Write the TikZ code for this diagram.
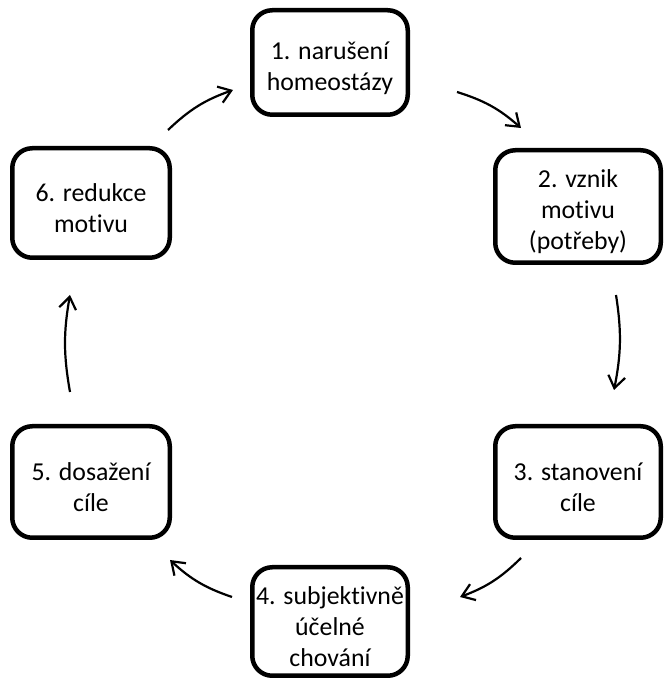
\documentclass[tikz,border=0pt]{standalone}
\usepackage{fontspec}
\setmainfont{Carlito}[Ligatures={NoCommon,NoContextual}]
\usetikzlibrary{arrows.meta}
% tall invisible strut that lowers the text block inside a box
\newcommand\lowstrut{\rule{0pt}{29pt}}
\begin{document}
\begin{tikzpicture}[x=1pt,y=1pt,
  stage/.style={draw, line width=4.5pt, rounded corners=20pt, align=center,
    inner sep=0pt, font=\fontsize{25.8}{31}\selectfont},
  flow/.style={line width=2.2pt, -{Straight Barb[length=12pt,width=17pt]}}]
\useasboundingbox (0,0) rectangle (671,682);
% the six stages of the motivation cycle
\node[stage, minimum width=155.5pt, minimum height=104.5pt] (s1) at (330,619.5) {\lowstrut 1. narušení\\homeostázy};
\node[stage, minimum width=165.5pt, minimum height=112.5pt] (s2) at (578,475.5) {\lowstrut 2. vznik\\mot\kern0pt ivu\\(potřeby)};
\node[stage, minimum width=165.5pt, minimum height=111.5pt] (s3) at (578,200) {\lowstrut 3. stanovení\\cíle};
\node[stage, minimum width=155.5pt, minimum height=108.5pt] (s4) at (330,60.5) {\lowstrut 4. subjekt\kern0pt ivně\\účelné\\chování};
\node[stage, minimum width=157.5pt, minimum height=111.5pt] (s5) at (91,200) {\lowstrut 5. dosažení\\cíle};
\node[stage, minimum width=157.5pt, minimum height=109.5pt] (s6) at (91,479) {\lowstrut 6. redukce\\mot\kern0pt ivu};
% free arrow ends between the stages
\coordinate (a1s) at (457,590); \coordinate (a1e) at (521,554);
\coordinate (a2s) at (616,387); \coordinate (a2e) at (614,292);
\coordinate (a3s) at (521,124); \coordinate (a3e) at (460,85);
\coordinate (a4s) at (232,85);  \coordinate (a4e) at (170,122);
\coordinate (a5s) at (70,290);  \coordinate (a5e) at (70,387);
\coordinate (a6s) at (168,552); \coordinate (a6e) at (233,592);
\draw[flow] (a1s) to[bend left=12] (a1e);
\draw[flow] (a2s) to[bend left=10] (a2e);
\draw[flow] (a3s) to[bend left=12] (a3e);
\draw[flow] (a4s) to[bend left=12] (a4e);
\draw[flow] (a5s) to[bend left=10] (a5e);
\draw[flow] (a6s) to[bend left=12] (a6e);
\end{tikzpicture}
\end{document}
